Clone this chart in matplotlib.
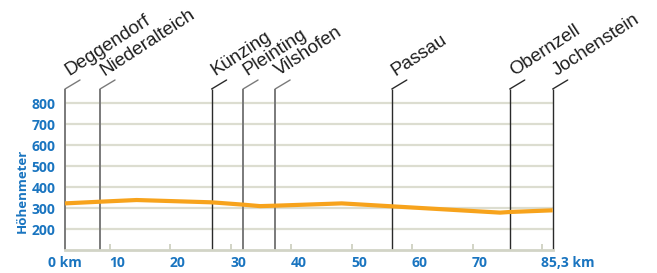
"""
Höhenprofil Donauradweg Deggendorf - Jochenstein.
"""

import matplotlib
matplotlib.use("Agg")
import matplotlib.pyplot as plt
from matplotlib import transforms

# Kilometer-Achse (Skala der Achsbeschriftung 10..70)
KM_START = 2.56
KM_END = 83.2

PROFILE_KM = [2.56, 8.35, 14.4, 26.8, 32.0, 34.8, 37.3, 46.4, 48.3, 56.6, 74.5, 76.1, 83.2]
PROFILE_M = [322, 330, 338, 327, 316, 309, 311, 320, 322, 308, 278, 281, 289]

TOWNS = ["Deggendorf", "Niederalteich", "Künzing", "Pleinting", "Vilshofen",
         "Passau", "Obernzell", "Jochenstein"]
TOWN_KM = [2.56, 8.35, 26.8, 32.0, 37.3, 56.6, 76.1, 83.2]
TOWN_DARK = [False, False, True, False, False, True, True, True]

X_TICKS = [10, 20, 30, 40, 50, 60, 70]
END_TICK = 81.4
Y_TICKS = [200, 300, 400, 500, 600, 700, 800]
Y_MIN, Y_MAX = 100, 866.7

BLUE = "#1a75c0"
ORANGE = "#f7a31c"
GRID = "#dcddd0"

fig = plt.figure(figsize=(6.57, 2.73), dpi=100)
ax = fig.add_axes([65 / 657, 23 / 273, 487.7 / 657, 161 / 273])
ax.set_xlim(KM_START, KM_END)
ax.set_ylim(Y_MIN, Y_MAX)

for side in ["left", "right", "top"]:
    ax.spines[side].set_visible(False)
ax.spines["bottom"].set_color("#d2d4c6")
ax.spines["bottom"].set_linewidth(2.0)

# Gitterlinien
for yv in Y_TICKS:
    ax.axhline(yv, color=GRID, lw=1.6, zorder=1)

ax.set_yticks(Y_TICKS)
ax.set_yticklabels([str(v) for v in Y_TICKS], color=BLUE, fontsize=10,
                   fontweight="bold", family="Open Sans")
ax.tick_params(axis="y", length=0, pad=7)

ax.set_xticks(X_TICKS + [END_TICK])
ax.set_xticklabels([])
ax.tick_params(axis="x", direction="in", length=4.5, width=1.4, color="#d2d4c6")

# x-Beschriftung (leicht nach rechts versetzt wie im Original)
lab_tr = transforms.blended_transform_factory(ax.transData, ax.transAxes)
shift = transforms.ScaledTranslation(7 / 100, 0, fig.dpi_scale_trans)
for xv in X_TICKS:
    ax.text(xv, -0.081, str(xv), transform=lab_tr + shift, ha="center", va="center",
            color=BLUE, fontsize=10, fontweight="bold", family="Open Sans")
ax.text(KM_START, -0.081, "0 km", transform=lab_tr, ha="center", va="center",
        color=BLUE, fontsize=10, fontweight="bold", family="Open Sans")
ax.text(END_TICK - 0.2, -0.081, "85,3 km", transform=lab_tr, ha="left", va="center",
        color=BLUE, fontsize=10, fontweight="bold", family="Open Sans")

fig.text(22 / 657, 1 - 191 / 273, "Höhenmeter", rotation=90, ha="center", va="center",
         color=BLUE, fontsize=9.5, fontweight="bold", family="Open Sans")

# Orte
for name, km, dark in zip(TOWNS, TOWN_KM, TOWN_DARK):
    col = "#2a2a2a" if dark else "#7a7a7a"
    lw = 1.0 if dark else 1.4
    ax.vlines(km, Y_MIN, Y_MAX, color=col, lw=lw, clip_on=False, zorder=2)
    ax.annotate("", xy=(km, Y_MAX), xytext=(15, 9), textcoords="offset pixels",
                arrowprops=dict(arrowstyle="-", color=col, lw=1.0,
                                shrinkA=0, shrinkB=0), annotation_clip=False)
    ax.annotate(name, xy=(km, Y_MAX), xytext=(4, 13), textcoords="offset pixels",
                rotation=33, rotation_mode="anchor", ha="left", va="baseline",
                fontsize=13.5, family="Liberation Sans", color="#1e1e1e",
                annotation_clip=False)

ax.plot(PROFILE_KM, PROFILE_M, color=ORANGE, lw=3.0, solid_capstyle="butt",
        solid_joinstyle="round", zorder=3, clip_on=False)

fig.savefig("out.png", dpi=100)
